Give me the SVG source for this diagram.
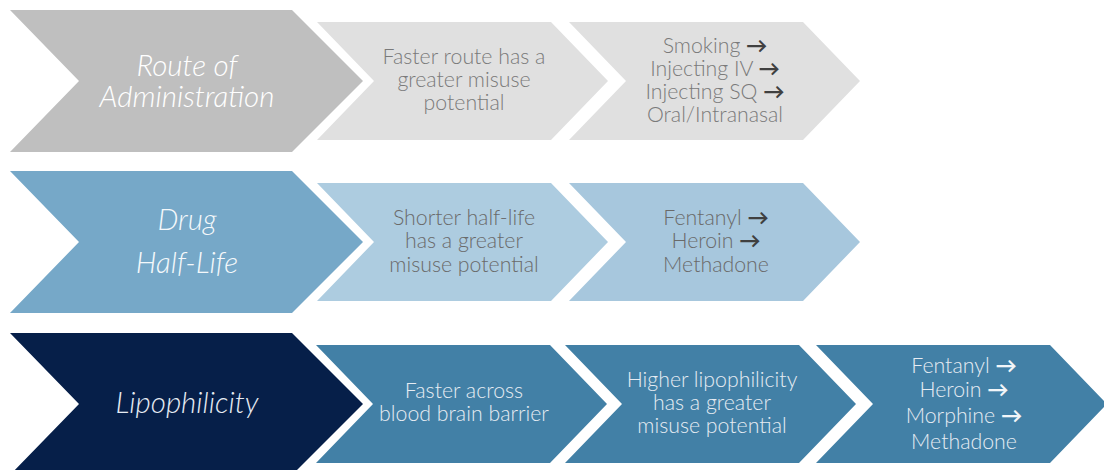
<svg xmlns="http://www.w3.org/2000/svg" width="1104" height="470" viewBox="0 0 1104 470">
<style>
.t{font-family:Lato,"Open Sans","Liberation Sans",sans-serif;font-weight:300;text-anchor:middle}
.big{font-size:29.5px;font-style:italic}
.sm{font-size:21.3px}
.g1{fill:#7a7a7a}
.g2{fill:#6a6a6a}
.w1{fill:#ffffff}
.w2{fill:#f4f8fb}
.w3{fill:#e6ecf3}
.ar{fill:#404040;font-weight:700}
.arw{fill:#f2f6f9;font-weight:700}
</style>
<defs>
<path id="bigc" d="M0,0 H282 L353,71 L282,142 H0 L69,71 Z"/>
<path id="smc" d="M0,0 H234 L291,59 L234,118 H0 L57,59 Z"/>
</defs>
<g id="row1">
<g id="n-route">
<use href="#bigc" x="10" y="10" fill="#bfbfbf"/>
<text class="t big w1" x="187" y="76">Route of</text>
<text class="t big w1" x="187" y="107">Administration</text>
</g>
<g id="n-faster-route">
<use href="#smc" x="317" y="22" fill="#e0e0e0"/>
<text class="t sm g1" x="464" y="64">Faster route has a</text>
<text class="t sm g1" x="464" y="87">greater misuse</text>
<text class="t sm g1" x="464" y="110">potential</text>
</g>
<g id="n-routes">
<use href="#smc" x="569" y="22" fill="#e0e0e0"/>
<text class="t sm g1" x="715" y="53">Smoking <tspan class="ar">→</tspan></text>
<text class="t sm g1" x="715" y="76">Injecting IV <tspan class="ar">→</tspan></text>
<text class="t sm g1" x="715" y="99">Injecting SQ <tspan class="ar">→</tspan></text>
<text class="t sm g1" x="715" y="122">Oral/Intranasal</text>
</g>
</g>
<g id="row2">
<g id="n-halflife">
<use href="#bigc" x="10" y="171" fill="#76a8c8"/>
<text class="t big w2" x="187" y="230">Drug</text>
<text class="t big w2" x="187" y="273">Half-Life</text>
</g>
<g id="n-shorter">
<use href="#smc" x="317" y="183" fill="#adcce0"/>
<text class="t sm g2" x="464" y="225">Shorter half-life</text>
<text class="t sm g2" x="464" y="248">has a greater</text>
<text class="t sm g2" x="464" y="272">misuse potential</text>
</g>
<g id="n-drugs2">
<use href="#smc" x="569" y="183" fill="#a7c7dd"/>
<text class="t sm g2" x="716" y="225">Fentanyl <tspan class="ar">→</tspan></text>
<text class="t sm g2" x="716" y="248">Heroin <tspan class="ar">→</tspan></text>
<text class="t sm g2" x="716" y="272">Methadone</text>
</g>
</g>
<g id="row3">
<g id="n-lipo">
<use href="#bigc" x="10" y="333" fill="#061f49"/>
<text class="t big w3" x="187" y="413">Lipophilicity</text>
</g>
<g id="n-bbb">
<use href="#smc" x="316" y="345" fill="#4280a6"/>
<text class="t sm w3" x="464" y="398">Faster across</text>
<text class="t sm w3" x="464" y="421">blood brain barrier</text>
</g>
<g id="n-higher">
<use href="#smc" x="565" y="345" fill="#4280a6"/>
<text class="t sm w3" x="712" y="387">Higher lipophilicity</text>
<text class="t sm w3" x="712" y="410">has a greater</text>
<text class="t sm w3" x="712" y="433">misuse potential</text>
</g>
<g id="n-drugs3">
<use href="#smc" x="816" y="345" fill="#4280a6"/>
<text class="t sm w3" x="964" y="373">Fentanyl <tspan class="arw">→</tspan></text>
<text class="t sm w3" x="964" y="397">Heroin <tspan class="arw">→</tspan></text>
<text class="t sm w3" x="964" y="423">Morphine <tspan class="arw">→</tspan></text>
<text class="t sm w3" x="964" y="449">Methadone</text>
</g>
</g>
<g id="connectors"/>
</svg>
